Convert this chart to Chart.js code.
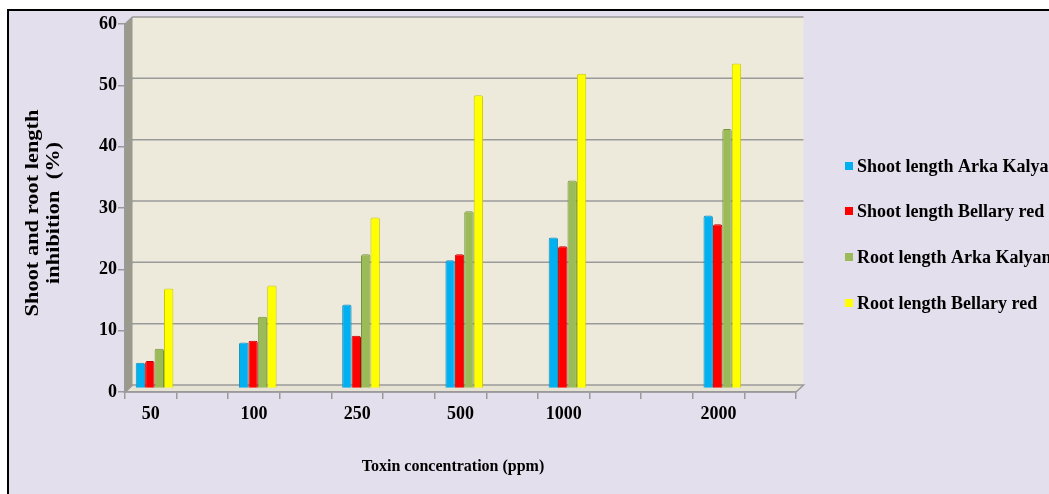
<!DOCTYPE html>
<html>
<head>
<meta charset="utf-8">
<script src="https://cdn.jsdelivr.net/npm/chart.js@4.4.0/dist/chart.umd.min.js"></script>
<style>
  html, body { margin: 0; padding: 0; background: #fff; }
  #wrap { width: 1049px; height: 494px; }
</style>
</head>
<body>
<div id="wrap"><canvas id="myChart"></canvas></div>
<script>
// 13 slots on the axis, only some carry a concentration label
const labels = ['50', '', '100', '', '250', '', '500', '', '1000', '', '', '2000', ''];

const shootArka  = [4.2, null, 7.5, null, 13.7, null, 20.9, null, 24.6, null, null, 28.2, null];
const shootBell  = [4.5, null, 7.8, null, 8.6, null, 21.9, null, 23.2, null, null, 26.8, null];
const rootArka   = [6.5, null, 11.7, null, 21.9, null, 28.9, null, 33.9, null, null, 42.3, null];
const rootBell   = [16.3, null, 16.8, null, 27.9, null, 47.8, null, 51.3, null, null, 53.0, null];

const seriesNames = ['Shoot length Arka Kalyan', 'Shoot length Bellary red', 'Root length Arka Kalyan', 'Root length Bellary red'];
const fills   = ['#00B0F0', '#FF0000', '#9BBB59', '#FFFF00'];
const borders = ['#1A8DB8', '#C00000', '#76923C', '#C8C800'];

const DX = 7.5, DY = -7;   // depth of the fake 3d walls
const serif = '"Liberation Serif", "Times New Roman", serif';

const decor = {
  id: 'decor',
  beforeDraw(chart) {
    const c = chart.ctx, a = chart.chartArea, y = chart.scales.y;
    c.save();
    c.fillStyle = '#fff';
    c.fillRect(0, 0, chart.width, chart.height);
    c.fillStyle = '#E4DFEC';
    c.fillRect(8, 10, chart.width, chart.height);
    c.strokeStyle = '#000';
    c.lineWidth = 2;
    c.beginPath();
    c.moveTo(8, chart.height); c.lineTo(8, 10); c.lineTo(chart.width, 10);
    c.stroke();

    // back wall
    c.fillStyle = '#EDEADC';
    c.fillRect(a.left + DX, a.top + DY, a.right - a.left, a.bottom - a.top);
    // floor
    c.fillStyle = '#E6E3D4';
    c.beginPath();
    c.moveTo(a.left, a.bottom); c.lineTo(a.right, a.bottom);
    c.lineTo(a.right + DX, a.bottom + DY); c.lineTo(a.left + DX, a.bottom + DY);
    c.closePath(); c.fill();
    c.strokeStyle = '#9A9A9A'; c.lineWidth = 1.5; c.stroke();
    // side wall
    c.fillStyle = '#9B998B';
    c.beginPath();
    c.moveTo(a.left, a.bottom); c.lineTo(a.left, a.top);
    c.lineTo(a.left + DX, a.top + DY); c.lineTo(a.left + DX, a.bottom + DY);
    c.closePath(); c.fill();
    // grid lines on the back wall
    c.strokeStyle = '#9A9A9A'; c.lineWidth = 1.5;
    y.ticks.forEach(t => {
      const py = y.getPixelForValue(t.value);
      c.beginPath();
      c.moveTo(a.left, py); c.lineTo(a.left + DX, py + DY);
      if (t.value > 0) c.lineTo(a.right + DX, py + DY);
      c.stroke();
    });
    c.restore();
  },
  beforeDatasetsDraw(chart) {
    chart.ctx.save();
    chart.ctx.translate(DX / 2, DY / 2);
  },
  afterDatasetsDraw(chart) {
    chart.ctx.restore();
  },
  afterDraw(chart) {
    const c = chart.ctx;
    c.save();
    c.fillStyle = '#000';
    // legend
    c.font = 'bold 18px ' + serif;
    c.textBaseline = 'middle';
    const ly = [166, 211, 257, 303];
    seriesNames.forEach((n, i) => {
      c.fillStyle = fills[i];
      c.fillRect(845, ly[i] - 4, 8, 8);
      c.fillStyle = '#000';
      c.fillText(n, 857, ly[i] + 1);
    });
    // axis titles
    c.textAlign = 'center';
    c.font = 'bold 16px ' + serif;
    c.fillText('Toxin concentration (ppm)', 453, 467);
    c.translate(43, 213);
    c.rotate(-Math.PI / 2);
    c.scale(1.18, 1);
    c.font = 'bold 19px ' + serif;
    c.fillText('Shoot and root length', 0, -10);
    c.fillText('inhibition  (%)', 0, 11);
    c.restore();
  }
};

const ctx = document.getElementById('myChart');

new Chart(ctx, {
  type: 'bar',
  data: {
    labels: labels,
    datasets: [
      { label: seriesNames[0], data: shootArka },
      { label: seriesNames[1], data: shootBell },
      { label: seriesNames[2], data: rootArka },
      { label: seriesNames[3], data: rootBell }
    ].map((d, i) => Object.assign(d, {
      backgroundColor: fills[i],
      borderColor: borders[i],
      borderWidth: 1,
      borderRadius: { topLeft: 2, topRight: 2 },
      borderSkipped: 'bottom'
    }))
  },
  options: {
    responsive: true,
    maintainAspectRatio: false,
    animation: false,
    layout: { padding: { left: 8, top: 24, right: 253, bottom: 0 } },
    plugins: { legend: { display: false }, tooltip: { enabled: false } },
    datasets: { bar: { categoryPercentage: 0.73, barPercentage: 1.0 } },
    scales: {
      x: {
        afterFit: s => { s.height = 102; },
        grid: { drawOnChartArea: false, tickLength: 7, color: '#9A9A9A', lineWidth: 1.5 },
        border: { display: true, color: '#9A9A9A', width: 1.5 },
        ticks: { color: '#000', padding: 5, maxRotation: 0, autoSkip: false,
                 font: { family: serif, size: 18, weight: 'bold' } }
      },
      y: {
        min: 0, max: 60,
        afterFit: s => { s.width = 117; },
        grid: { drawOnChartArea: false, tickLength: 7, color: '#9A9A9A', lineWidth: 1.5 },
        border: { display: true, color: '#9A9A9A', width: 1.5 },
        ticks: { stepSize: 10, color: '#000', padding: 1,
                 font: { family: serif, size: 18, weight: 'bold' } }
      }
    }
  },
  plugins: [decor]
});
</script>
</body>
</html>
